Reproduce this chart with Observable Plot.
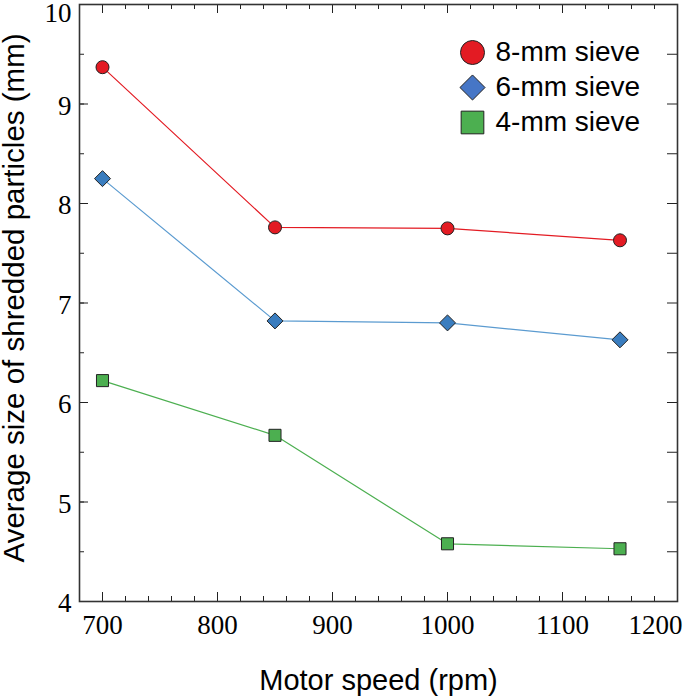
<!DOCTYPE html>
<html>
<head>
<meta charset="utf-8">
<script src="https://cdn.jsdelivr.net/npm/d3@7"></script>
<script src="https://cdn.jsdelivr.net/npm/@observablehq/plot@0.6"></script>
<style>
  body { margin: 0; background: #fff; }
  #chart-display svg { display: block; }
</style>
</head>
<body>
<div id="chart-display"></div>
<script>
// values
const speeds = [700, 850, 1000, 1150]
const sieve8 = [9.37, 7.76, 7.75, 7.63]
const sieve6 = [8.25, 6.82, 6.80, 6.63]
const sieve4 = [6.22, 5.67, 4.58, 4.53]
const seriesNames = ["8-mm sieve", "6-mm sieve", "4-mm sieve"]

const xTicks = [700, 800, 900, 1000, 1100, 1200]
const yTicks = [4, 5, 6, 7, 8, 9, 10]
const xTitle = "Motor speed (rpm)"
const yTitle = "Average size of shredded particles (mm)"

window.onload = () => {
  const W = 685, H = 696
  const mL = 79, mR = 8, mT = 4, mB = 95
  const plotW = W - mL - mR, plotH = H - mT - mB
  const xMinor = d3.range(680, 1201, 20)
  const yMinor = d3.range(4, 10.01, 0.5)

  const rows = (ys) => speeds.map((s, i) => ({speed: s, size: ys[i]}))
  const d8 = rows(sieve8), d6 = rows(sieve6), d4 = rows(sieve4)

  const red = "#e31b23", blue = "#3a7dbf", blueLine = "#5b9bd0", green = "#4caf50"
  const legendBlue = "#4676c6"
  const serif = "Liberation Serif, Times New Roman, serif"
  const sans = "Liberation Sans, Arial, sans-serif"
  const tickColor = "#222"
  const fmt = d => String(d)

  const legend = (i, symbol, r, fill) => [
    Plot.dot([seriesNames[i]], {frameAnchor: "top-right", dx: -205, dy: 48 + i * 35,
      symbol, r, fill, stroke: "#222", strokeWidth: 1}),
    Plot.text([seriesNames[i]], {frameAnchor: "top-right", dx: -182, dy: 48 + i * 35,
      text: d => d, textAnchor: "start", lineAnchor: "middle", fontSize: 28, fontFamily: sans, fill: "#000"})
  ]

  const axisOpts = {tickSize: 0, fontSize: 27, fontFamily: serif, fill: "#000", tickFormat: fmt, label: null}

  const plot = Plot.plot({
    width: W,
    height: H,
    marginLeft: mL, marginRight: mR, marginTop: mT, marginBottom: mB,
    style: {background: "#fff"},
    x: {domain: [680, 1200]},
    y: {domain: [4, 10]},
    marks: [
      // inward ticks on all four sides
      Plot.ruleX(xMinor, {stroke: tickColor, insetTop: plotH - 5}),
      Plot.ruleX(xMinor, {stroke: tickColor, insetBottom: plotH - 5}),
      Plot.ruleX(xTicks, {stroke: tickColor, insetTop: plotH - 9}),
      Plot.ruleX(xTicks, {stroke: tickColor, insetBottom: plotH - 9}),
      Plot.ruleY(yMinor, {stroke: tickColor, insetRight: plotW - 5}),
      Plot.ruleY(yMinor, {stroke: tickColor, insetLeft: plotW - 10}),
      Plot.ruleY(yTicks, {stroke: tickColor, insetRight: plotW - 9}),
      Plot.frame({stroke: "#333", strokeWidth: 1.6}),

      Plot.axisX(xTicks.slice(0, -1), {...axisOpts, tickPadding: 13}),
      Plot.axisX(xTicks.slice(-1), {...axisOpts, tickPadding: 13, textAnchor: "end", dx: 5}),
      Plot.axisY(yTicks.slice(0, -1), {...axisOpts, tickPadding: 8, dy: 2}),
      Plot.axisY(yTicks.slice(-1), {...axisOpts, tickPadding: 8, dy: 9}),

      Plot.text([xTitle], {frameAnchor: "bottom", dy: 79, text: d => d, textAnchor: "middle", lineAnchor: "middle",
        fontSize: 29, fontFamily: sans, fill: "#000"}),
      Plot.text([yTitle], {frameAnchor: "left", dx: -65, dy: -5, rotate: -90, text: d => d, textAnchor: "middle", lineAnchor: "middle",
        fontSize: 29.5, fontFamily: sans, fill: "#000"}),

      Plot.line(d8, {x: "speed", y: "size", stroke: red, strokeWidth: 1.2}),
      Plot.line(d6, {x: "speed", y: "size", stroke: blueLine, strokeWidth: 1.2}),
      Plot.line(d4, {x: "speed", y: "size", stroke: green, strokeWidth: 1.2}),
      Plot.dot(d8, {x: "speed", y: "size", symbol: "circle", r: 6.5, fill: red, stroke: "#222", strokeWidth: 1}),
      Plot.dot(d6, {x: "speed", y: "size", symbol: "diamond2", r: 7.2, fill: blue, stroke: "#222", strokeWidth: 1}),
      Plot.dot(d4, {x: "speed", y: "size", symbol: "square", r: 6.8, fill: green, stroke: "#222", strokeWidth: 1}),

      ...legend(0, "circle", 12, red),
      ...legend(1, "diamond2", 11.3, legendBlue),
      ...legend(2, "square", 12.8, green)
    ]
  })

  document.querySelector("#chart-display").append(plot)
}
</script>
</body>
</html>
